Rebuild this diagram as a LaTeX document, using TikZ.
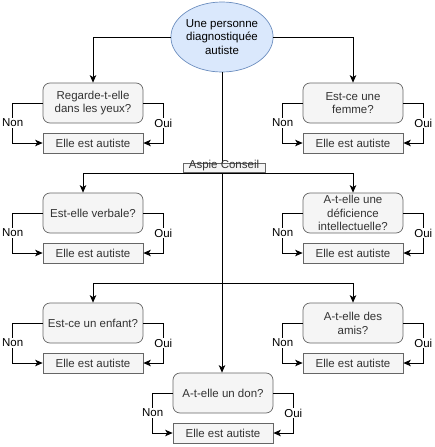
\documentclass[tikz,border=0pt]{standalone}
\usepackage{fontspec}
\setmainfont{Liberation Sans}
\usetikzlibrary{arrows.meta,calc,shapes.geometric}
\definecolor{boxfill}{HTML}{F5F5F5}
\definecolor{boxdraw}{HTML}{666666}
\definecolor{boxtext}{HTML}{333333}
\definecolor{ellfill}{HTML}{DAE8FC}
\definecolor{elldraw}{HTML}{6C8EBF}
\begin{document}
\begin{tikzpicture}[x=1pt,y=-1pt,
  font=\fontsize{11.5}{13.8}\selectfont,
  question/.style={draw=boxdraw,fill=boxfill,text=boxtext,rounded corners=7pt,minimum width=100pt,minimum height=40pt,inner sep=0pt,align=center,line width=0.7pt},
  answer/.style={draw=boxdraw,fill=boxfill,text=boxtext,minimum width=100pt,minimum height=20pt,inner sep=0pt,line width=0.7pt},
  start/.style={ellipse,draw=elldraw,fill=ellfill,minimum width=100pt,minimum height=70pt,inner sep=0pt,align=center,line width=0.7pt},
  conn/.style={draw=black,line width=0.8pt,-{Stealth[length=7.5pt,width=6.5pt,inset=2pt]}},
  lbl/.style={fill=white,inner sep=1pt,text=black}]
\useasboundingbox (0,0) rectangle (435,447);
\node[start] (e) at (222,37) {Une personne\\diagnostiquée\\autiste};
\node[question] (q1) at (93,103) {Regarde-t-elle\\dans les yeux?};
\node[answer] (a1) at (93,143) {Elle est autiste};
\node[question] (q2) at (353,103) {Est-ce une\\femme?};
\node[answer] (a2) at (353,143) {Elle est autiste};
\node[question] (q3) at (93,213) {Est-elle verbale?};
\node[answer] (a3) at (93,253) {Elle est autiste};
\node[question] (q4) at (353,213) {A-t-elle une\\déficience\\intellectuelle?};
\node[answer] (a4) at (353,253) {Elle est autiste};
\node[question] (q5) at (93,323) {Est-ce un enfant?};
\node[answer] (a5) at (93,363) {Elle est autiste};
\node[question] (q6) at (353,323) {A-t-elle des\\amis?};
\node[answer] (a6) at (353,363) {Elle est autiste};
\node[question] (q7) at (223,393) {A-t-elle un don?};
\node[answer] (a7) at (223,433) {Elle est autiste};
\coordinate (j2) at (222,173);
\coordinate (j3) at (222,283);
% main connectors
\draw[conn] (e.west) -| (q1.north);
\draw[conn] (e.east) -| (q2.north);
\draw[conn] (e.south) -- (e.south |- q7.north);
\draw[conn] (j2) -| ([xshift=-10pt]q3.north);
\draw[conn] (j2) -| (q4.north);
\draw[conn] (j3) -| (q5.north);
\draw[conn] (j3) -| (q6.north);
% Non / Oui
\foreach \q/\a/\l in {q1/a1/30,q2/a2/20,q3/a3/30,q4/a4/20,q5/a5/30,q6/a6/20,q7/a7/20}{
  \draw[conn] (\q.west) -- ++(-\l,0) |- node[pos=0.25,lbl]{Non} (\a.west);
  \draw[conn] (\q.east) -- ++(20,0) |- node[pos=0.25,lbl]{Oui} (\a.east);
}
\node[draw=boxdraw,fill=boxfill,text=boxtext,minimum width=82pt,minimum height=9pt,inner sep=0pt,text depth=0pt,line width=0.6pt,font=\fontsize{11.5}{11.5}\selectfont] (ac) at (224,167.5) {\raisebox{-1pt}[0pt][0pt]{Aspie Conseil}};
\end{tikzpicture}
\end{document}
